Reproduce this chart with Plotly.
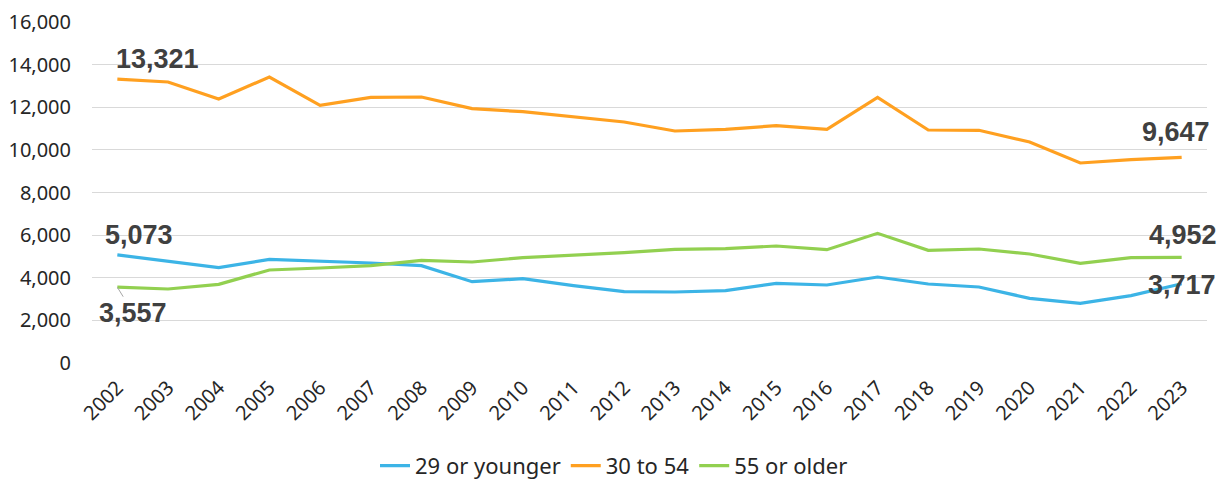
import plotly.graph_objects as go

years = list(range(2002, 2024))

young = [5073, 4770, 4473, 4864, 4786, 4692, 4567, 3816, 3957, 3629, 3347,
         3331, 3394, 3738, 3660, 4035, 3707, 3566, 3034, 2800, 3159, 3717]
middle = [13321, 13185, 12387, 13419, 12091, 12466, 12481, 11933, 11792, 11557, 11308,
          10886, 10964, 11136, 10964, 12466, 10933, 10918, 10370, 9384, 9540, 9647]
older = [3557, 3472, 3691, 4364, 4457, 4567, 4817, 4739, 4942, 5052, 5177,
         5333, 5364, 5490, 5318, 6084, 5286, 5349, 5114, 4676, 4942, 4952]

names = ["29 or younger", "30 to 54", "55 or older"]
colors = ["#3cb4e6", "#ffa020", "#92d050"]

fig = go.Figure()
for name, vals, col in zip(names, [young, middle, older], colors):
    fig.add_scatter(x=years, y=vals, name=name, mode="lines",
                    line=dict(color=col, width=3.2), hoverinfo="skip")

lab_font = dict(family="Liberation Sans", size=27, color="#404040")


def label(x, y, xshift=0, yshift=0, yanchor="middle", **kw):
    fig.add_annotation(x=x, y=y, text="<b>{:,}</b>".format(y), showarrow=False,
                       xshift=xshift, yshift=yshift, yanchor=yanchor,
                       font=lab_font, **kw)


label(2002, middle[0], xshift=40, yshift=3, yanchor="bottom")
label(2002, young[0], xshift=22, yshift=3, yanchor="bottom")
label(2023, middle[-1], xshift=-6, yshift=8, yanchor="bottom")
label(2023, older[-1], xshift=1, yshift=5, yanchor="bottom")
label(2023, young[-1], xshift=0, yshift=-1)
fig.add_annotation(x=2002, y=older[0], text="<b>{:,}</b>".format(older[0]),
                   showarrow=True, arrowhead=0, arrowwidth=1, arrowcolor="#a6a6a6",
                   ax=16, ay=26, font=lab_font)

# page body adds an 8px margin, so the figure is 16px smaller than the window
fig.update_layout(
    width=1212, height=473,
    margin=dict(l=84, r=13, t=14, b=118),
    plot_bgcolor="white", paper_bgcolor="white",
    font=dict(family="Noto Sans", size=20, color="#262626"),
    showlegend=True,
    legend=dict(orientation="h", xref="container", yref="container",
                x=0.5, xanchor="center", y=0.032, yanchor="middle",
                font=dict(size=22), itemwidth=30),
    xaxis=dict(range=[2001.5, 2023.5], tickvals=years, tickangle=-45,
               showgrid=False, zeroline=False, showline=False, ticks="",
               ticklabelstandoff=8, automargin=False),
    yaxis=dict(range=[0, 16000], dtick=2000, tickformat=",d",
               gridcolor="#d9d9d9", gridwidth=1, zeroline=False,
               showline=False, ticks="", ticklabelstandoff=20, automargin=False),
)

fig.write_html("out.html")
